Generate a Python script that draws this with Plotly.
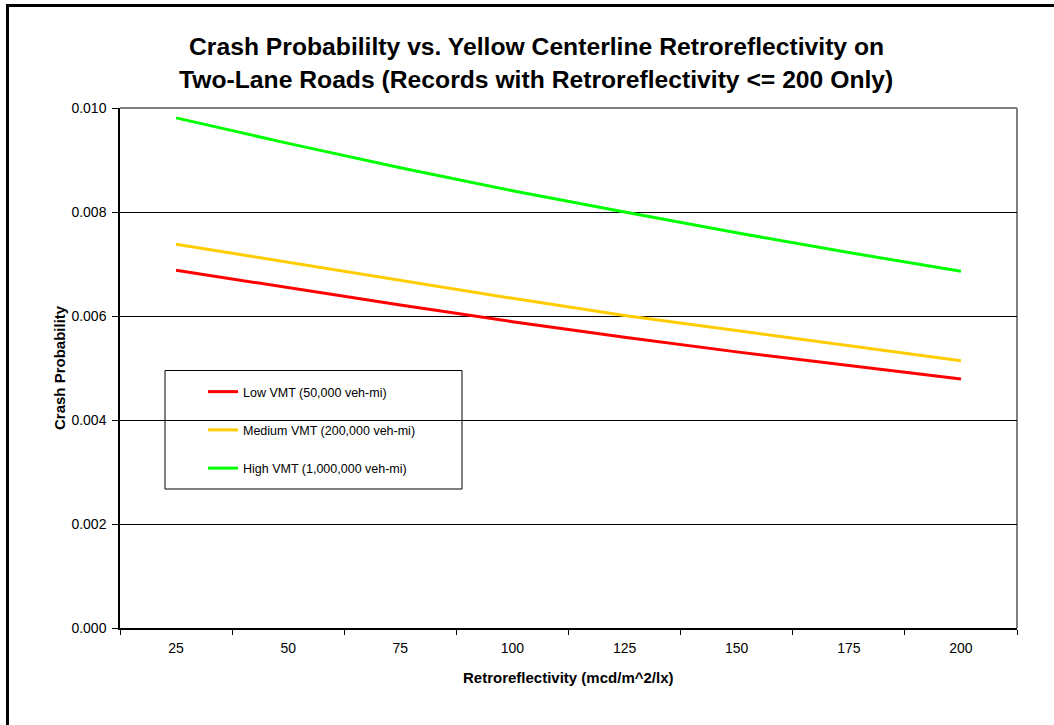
import plotly.graph_objects as go

# Retroreflectivity categories (mcd/m^2/lx)
retro = ["25", "50", "75", "100", "125", "150", "175", "200"]

# Predicted crash probability for each traffic-exposure level
low_vmt = [0.00688, 0.00654, 0.00621, 0.00589, 0.00559, 0.00531, 0.00505, 0.00479]
medium_vmt = [0.00738, 0.00703, 0.00668, 0.00634, 0.00601, 0.00572, 0.00543, 0.00514]
high_vmt = [0.00981, 0.00932, 0.00885, 0.00841, 0.00800, 0.00760, 0.00722, 0.00686]

series_names = [
    "Low VMT (50,000 veh-mi)",
    "Medium VMT (200,000 veh-mi)",
    "High VMT (1,000,000 veh-mi)",
]
series_colors = ["#FF0000", "#FFCC00", "#00FF00"]

W, H = 1054, 725
L, R, T, B = 120, 1017, 108, 628  # plot area in pixels


def px_x(x):
    return (x - L) / (R - L)


def px_y(y):
    return (B - y) / (B - T)


FONT = "Liberation Sans, Arial, sans-serif"

fig = go.Figure()
for i, (name, vals, col) in enumerate(zip(series_names, [low_vmt, medium_vmt, high_vmt], series_colors)):
    fig.add_trace(go.Scatter(
        x=retro, y=vals, mode="lines", name=name,
        line=dict(color=col, width=3),
        legendgroup=f"g{i}",
    ))

fig.update_layout(
    width=W, height=H,
    margin=dict(l=L, r=W - R, t=T, b=H - B),
    paper_bgcolor="white", plot_bgcolor="white",
    font=dict(family=FONT, color="black", size=13),
    showlegend=True,
    legend=dict(
        x=px_x(203), y=px_y(377), xanchor="left", yanchor="top",
        bgcolor="rgba(0,0,0,0)", borderwidth=0,
        font=dict(size=12.5, family=FONT, color="black"),
        tracegroupgap=19, itemwidth=30,
    ),
    xaxis=dict(
        type="category", range=[-0.5, 7.5],
        tickson="boundaries", ticks="outside", ticklen=5, tickcolor="black",
        showline=True, linecolor="black", linewidth=1.5,
        showgrid=False, zeroline=False,
        tickfont=dict(size=14, family=FONT),
        ticklabelstandoff=6,
    ),
    yaxis=dict(
        range=[0, 0.010], dtick=0.002, tickformat=".3f",
        ticks="outside", ticklen=6, tickcolor="black",
        showline=True, linecolor="black", linewidth=1.5,
        showgrid=True, gridcolor="black", gridwidth=1,
        zeroline=False,
        tickfont=dict(size=14, family=FONT),
        ticklabelstandoff=3,
    ),
)

# Plot-area border (top and right edges in gray)
fig.add_shape(type="line", xref="paper", yref="paper", x0=0, x1=1, y0=1, y1=1,
              line=dict(color="#808080", width=2), layer="between")
fig.add_shape(type="line", xref="paper", yref="paper", x0=1, x1=1, y0=0, y1=1,
              line=dict(color="#808080", width=2), layer="between")

# Legend frame
fig.add_shape(type="rect", xref="paper", yref="paper",
              x0=px_x(165), x1=px_x(462), y0=px_y(489), y1=px_y(370.5),
              line=dict(color="black", width=1), fillcolor="white", layer="between")

# Outer chart frame
fig.add_shape(type="rect", xref="paper", yref="paper",
              x0=px_x(7.5), x1=px_x(1100), y0=px_y(780), y1=px_y(5.5),
              line=dict(color="black", width=3), layer="above")

# Title lines
fig.add_annotation(text="<b>Crash Probabililty vs. Yellow Centerline Retroreflectivity on</b>",
                   xref="paper", yref="paper", x=px_x(536), y=px_y(47),
                   showarrow=False, font=dict(size=24.7, family=FONT), xanchor="center", yanchor="middle")
fig.add_annotation(text="<b>Two-Lane Roads (Records with Retroreflectivity <= 200 Only)</b>",
                   xref="paper", yref="paper", x=px_x(536), y=px_y(80),
                   showarrow=False, font=dict(size=24.7, family=FONT), xanchor="center", yanchor="middle")

# Axis titles
fig.add_annotation(text="<b>Retroreflectivity (mcd/m^2/lx)</b>",
                   xref="paper", yref="paper", x=px_x(568), y=px_y(677),
                   showarrow=False, font=dict(size=15, family=FONT), xanchor="center", yanchor="middle")
fig.add_annotation(text="<b>Crash Probability</b>", textangle=-90,
                   xref="paper", yref="paper", x=px_x(59), y=px_y(368),
                   showarrow=False, font=dict(size=15, family=FONT), xanchor="center", yanchor="middle")

fig.write_html("out.html")
